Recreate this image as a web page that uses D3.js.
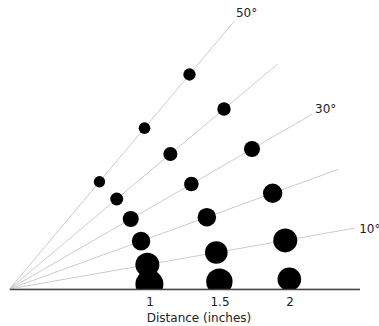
<!DOCTYPE html>
<html>
<head>
<meta charset="utf-8">
<script src="https://cdn.jsdelivr.net/npm/d3@7"></script>
<style>
    body { margin: 0; background: #fff; }
    svg { display: block; font-family: "DejaVu Sans", sans-serif; }
    .ray { stroke: #cccccc; stroke-width: 1; fill: none; }
    .axis path { stroke: #444; stroke-width: 1.3; }
    .axis text { font-size: 12px; fill: #222; font-family: "DejaVu Sans", sans-serif; }
    .angle-label { font-size: 12px; fill: #222; }
    .axis-title { font-size: 12px; fill: #222; }
</style>
</head>
<body>
<script>
(function() {
    'use strict';

    // data
    let rayAngles = [0, 10, 20, 30, 40, 50];
    let labelAngles = [10, 30, 50];
    let labelTexts = ["10°", "30°", "50°"];
    let distances = [1, 1.5, 2];
    let dotAngles = [2, 10, 20, 30, 40, 50];
    // one row per angle, one value per distance
    let dotValues = [
        [196, 174, 139],
        [144, 128, 144],
        [86, 86, 94],
        [64, 53, 64],
        [42, 49, 45],
        [32, 34, 38]
    ];
    let xTicks = [1, 1.5, 2];
    let xTitle = "Distance (inches)";
    let rayLength = 2.5;

    let width = 379;
    let height = 326;

    let x = d3.scaleLinear().domain([0, 2.5]).range([9.5, 359.5]);
    let y = d3.scaleLinear().domain([0, 2.5]).range([289, -61]);
    let size = d3.scaleSqrt().domain([0, 196]).range([0, 14]);

    // label nudges (pixels), keyed by angle
    let labelNudge = { 10: [5, 5], 30: [2.5, -1.5], 50: [1.5, -4] };

    function rad(a) { return a / 180 * Math.PI; }
    function px(r, a) { return x(r * Math.cos(rad(a))); }
    function py(r, a) { return y(r * Math.sin(rad(a))); }

    let svg = d3.select("body").append("svg")
        .attr("width", width)
        .attr("height", height);

    svg.append("defs").append("clipPath")
        .attr("id", "plot-clip")
        .append("rect")
        .attr("x", 0)
        .attr("y", 0)
        .attr("width", width)
        .attr("height", y(0));

    svg.append("g").selectAll("line")
        .data(rayAngles)
        .enter()
        .append("line")
        .attr("class", "ray")
        .attr("x1", x(0))
        .attr("y1", y(0))
        .attr("x2", function(d) { return px(rayLength, d); })
        .attr("y2", function(d) { return py(rayLength, d); });

    let dots = [];
    dotAngles.forEach(function(a, i) {
        distances.forEach(function(r, j) {
            dots.push({ angle: a, dist: r, value: dotValues[i][j] });
        });
    });

    svg.append("g")
        .attr("clip-path", "url(#plot-clip)")
        .selectAll("circle")
        .data(dots)
        .enter()
        .append("circle")
        .attr("cx", function(d) { return px(d.dist, d.angle); })
        .attr("cy", function(d) { return py(d.dist, d.angle); })
        .attr("r", function(d) { return size(d.value); })
        .attr("fill", "#000");

    let axis = d3.axisBottom(x)
        .tickValues(xTicks)
        .tickFormat(d3.format("~g"))
        .tickSize(0)
        .tickPadding(8);

    let gAxis = svg.append("g")
        .attr("class", "axis")
        .attr("transform", "translate(0," + y(0) + ")")
        .call(axis);
    gAxis.selectAll(".tick line").remove();

    svg.append("text")
        .attr("class", "axis-title")
        .attr("x", 199)
        .attr("y", 321.5)
        .attr("text-anchor", "middle")
        .text(xTitle);

    svg.append("g").selectAll("text")
        .data(labelAngles)
        .enter()
        .append("text")
        .attr("class", "angle-label")
        .attr("x", function(d) { return px(rayLength, d) + labelNudge[d][0]; })
        .attr("y", function(d) { return py(rayLength, d) + labelNudge[d][1]; })
        .text(function(d, i) { return labelTexts[i]; });
})();
</script>
</body>
</html>
